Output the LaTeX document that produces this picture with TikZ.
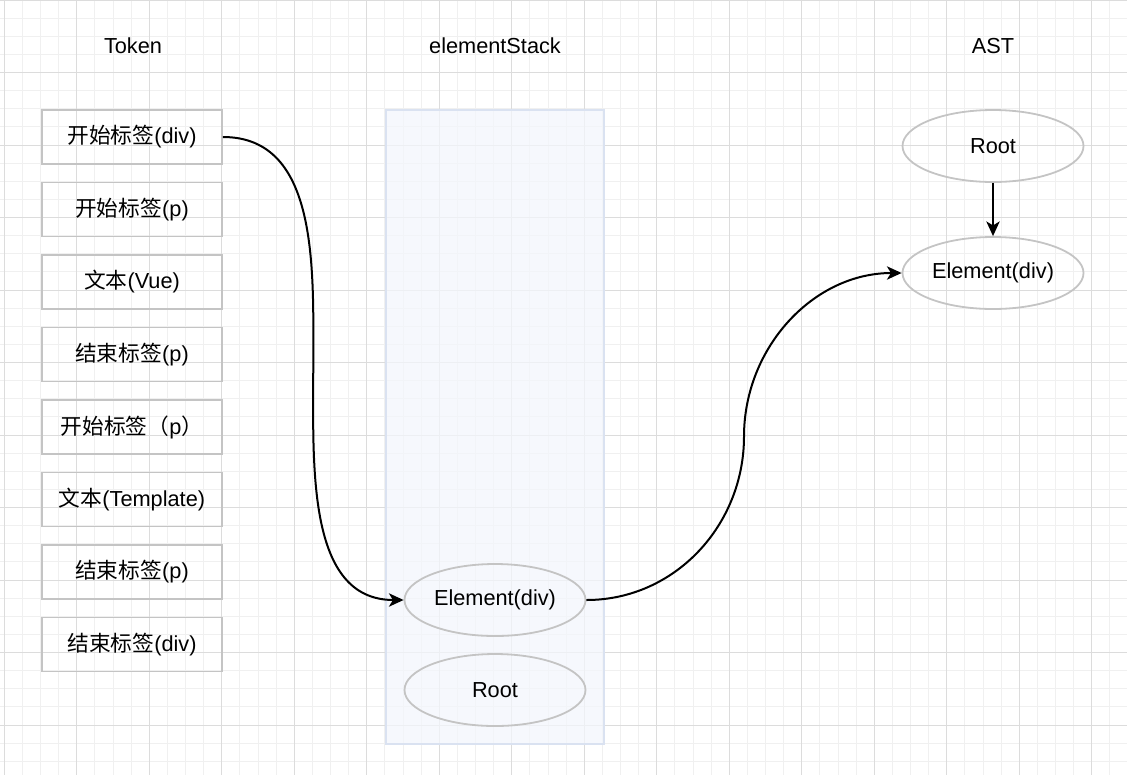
\documentclass[tikz,border=0pt]{standalone}
\usepackage{fontspec}
\setmainfont{Liberation Sans}
\newfontfamily\cjk{Noto Sans CJK SC}
\usepackage{tikz}
\usetikzlibrary{calc,shapes.geometric,arrows.meta,positioning}
\usepackage{xcolor}
\definecolor{gridminor}{HTML}{F0F0F0}
\definecolor{gridmajor}{HTML}{DCDCDC}
\definecolor{boxline}{HTML}{C4C4C4}
\definecolor{stackfill}{HTML}{F3F6FC}
\definecolor{stackline}{HTML}{DAE2F1}

\tikzset{
  token/.style={draw=boxline,line width=1.35pt,minimum width=135pt,minimum height=40.5pt,inner sep=0pt},
  elem/.style={ellipse,draw=boxline,line width=1.35pt,minimum width=135.75pt,minimum height=54pt,inner sep=0pt},
  title/.style={inner sep=0pt},
  flow/.style={-{Stealth[length=11pt,width=10pt,inset=3pt]},line width=1.5pt},
}

\begin{document}
\begin{tikzpicture}[x=0.75pt,y=-0.75pt,font=\fontsize{16.3}{19}\selectfont]
    \useasboundingbox (0,0) rectangle (1127,775);

    % background grid
    \foreach \i in {0,...,61} \draw[gridminor,line width=.75pt] ({4.3+18.125*\i},0) -- ++(0,775);
    \foreach \j in {0,...,42} \draw[gridminor,line width=.75pt] (0,{18.125*\j}) -- ++(1127,0);
    \foreach \i in {0,...,15} \draw[gridmajor,line width=.75pt] ({4.3+72.5*\i},0) -- ++(0,775);
    \foreach \j in {0,...,10} \draw[gridmajor,line width=.75pt] (0,{72.5*\j}) -- ++(1127,0);

    \node[title] (tok) at (133,46) {Token};
    \node[title] (stk) at (495,46) {elementStack};
    \node[title] (ast) at (993,46) {AST};

    % token list
    \node[token] (open1)  at (132,137)   {{\cjk 开始标签}(div)};
    \node[token] (open2)  at (132,209.5) {{\cjk 开始标签}(p)};
    \node[token] (txt1)   at (132,282)   {{\cjk 文本}(Vue)};
    \node[token] (close1) at (132,354.5) {{\cjk 结束标签}(p)};
    \node[token] (open3)  at (132,427)   {{\cjk 开始标签（}p{\cjk ）}};
    \node[token] (txt2)   at (132,499.5) {{\cjk 文本}(Template)};
    \node[token] (close2) at (132,572)   {{\cjk 结束标签}(p)};
    \node[token] (close3) at (132,644.5) {{\cjk 结束标签}(div)};

    % element stack
    \draw[stackline,fill=stackfill,fill opacity=.75,line width=1.35pt] (386,110) rectangle (604,744);
    \node[elem] (stel)   at (495,600) {Element(div)};
    \node[elem] (stroot) at (495,690) {Root};

    % ast
    \node[elem] (astroot) at (993,146) {Root};
    \node[elem] (astel)   at (993,273) {Element(div)};

    \coordinate (mid1) at ($(open1.east)!.5!(stel.west)$);
    \coordinate (mid2) at ($(stel.east)!.5!(astel.west)$);

    \draw[flow] (astroot) -- (astel);
    \draw[flow] (open1.east) to[out=0,in=90] (mid1) to[out=-90,in=180] (stel.west);
    \draw[flow] (stel.east) to[out=0,in=-90] (mid2) to[out=90,in=180] (astel.west);

\end{tikzpicture}
\end{document}
